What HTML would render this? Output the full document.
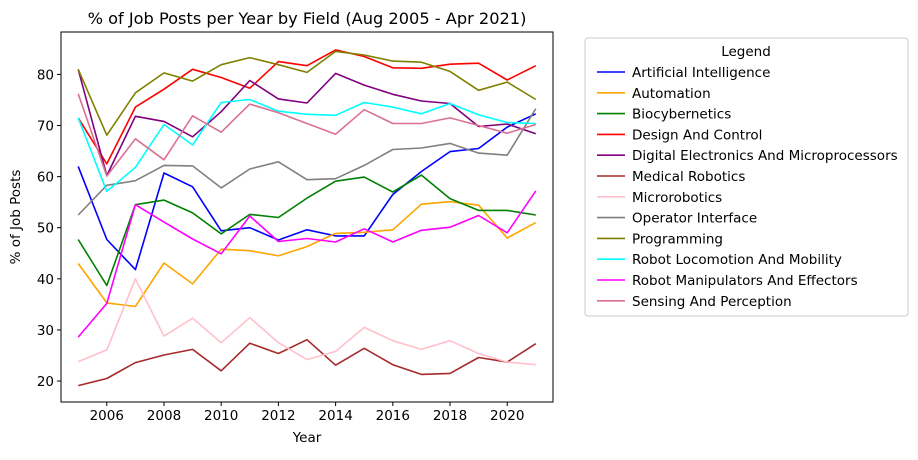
<!DOCTYPE html>
<html><head><meta charset="utf-8"><style>
body{margin:0;background:#fff;}
svg{font-family:"DejaVu Sans","Liberation Sans",sans-serif;}
</style></head><body>
<svg id="chart" width="918" height="455" xmlns="http://www.w3.org/2000/svg">
<rect width="918" height="455" fill="#fff"/>
<text x="307" y="24" font-size="16.2" text-anchor="middle">% of Job Posts per Year by Field (Aug 2005 - Apr 2021)</text>
<g id="plot"></g>
<g id="axes"></g>
<rect x="61" y="32" width="492" height="370" fill="none" stroke="#000" stroke-width="1"/>
<text x="307" y="442" font-size="13.5" text-anchor="middle">Year</text>
<text transform="translate(20,217) rotate(-90)" font-size="13.5" text-anchor="middle">% of Job Posts</text>
<g id="legend">
<rect x="585" y="38" width="323" height="278" rx="3" fill="#fff" stroke="#ccc"/>
<text x="746" y="56" font-size="13.5" text-anchor="middle">Legend</text>
</g>
</svg>
<script>
const years = [2005,2006,2007,2008,2009,2010,2011,2012,2013,2014,2015,2016,2017,2018,2019,2020,2021];
const seriesNames = ["Artificial Intelligence","Automation","Biocybernetics","Design And Control","Digital Electronics And Microprocessors","Medical Robotics","Microrobotics","Operator Interface","Programming","Robot Locomotion And Mobility","Robot Manipulators And Effectors","Sensing And Perception"];
const seriesColors = ["blue","orange","green","red","purple","brown","pink","gray","olive","cyan","magenta","palevioletred"];
const aiVals = [62,47.7,41.8,60.7,58,49.4,50,47.6,49.6,48.4,48.4,56.5,61,64.9,65.5,69.7,72.3];
const automationVals = [43,35.3,34.6,43.1,39,45.8,45.5,44.5,46.3,48.9,49.1,49.6,54.6,55.1,54.4,48,51];
const bioVals = [47.7,38.7,54.5,55.4,52.9,48.8,52.6,52,55.8,59.1,59.9,57,60.3,55.7,53.4,53.4,52.5];
const designVals = [71.5,62.5,73.6,77.1,81,79.4,77.3,82.5,81.7,84.8,83.5,81.3,81.2,82,82.2,78.9,81.7];
const digitalVals = [81,60.2,71.8,70.8,67.8,72.7,78.8,75.2,74.4,80.2,77.9,76.1,74.8,74.3,69.8,70.3,68.4];
const medicalVals = [19.1,20.5,23.6,25.1,26.2,22,27.4,25.4,28.1,23.1,26.4,23.2,21.3,21.5,24.6,23.7,27.3];
const microVals = [23.8,26.1,40,28.8,32.3,27.5,32.4,27.5,24.2,25.8,30.5,27.9,26.2,27.9,25.4,23.7,23.2];
const operatorVals = [52.5,58.3,59.2,62.2,62.1,57.8,61.5,62.9,59.4,59.6,62.2,65.3,65.6,66.5,64.6,64.2,73.3];
const programmingVals = [81,68.1,76.4,80.3,78.7,81.9,83.3,81.9,80.4,84.5,83.8,82.6,82.4,80.6,76.9,78.5,75.1];
const locomotionVals = [71.5,57.1,61.8,70.2,66.2,74.5,75.1,72.8,72.2,72,74.5,73.6,72.3,74.3,72.1,70.6,70.4];
const manipVals = [28.6,35.2,54.5,51.1,47.8,44.9,52.3,47.3,47.9,47.2,49.8,47.2,49.5,50.1,52.4,49,57.2];
const sensingVals = [76.2,60.1,67.4,63.3,71.9,68.7,74.2,72.5,70.4,68.3,73.1,70.4,70.4,71.5,70,68.5,70.2];
const xTicks = [2006,2008,2010,2012,2014,2016,2018,2020];
const yTicks = [20,30,40,50,60,70,80];

const allSeries = [aiVals,automationVals,bioVals,designVals,digitalVals,medicalVals,microVals,operatorVals,programmingVals,locomotionVals,manipVals,sensingVals];
const NS="http://www.w3.org/2000/svg";
const L=61,R=553,T=32,B=402;
const xMin=2004.4,xMax=2021.6,yMin=15.9,yMax=88.3;
function xs(v){return L+(v-xMin)/(xMax-xMin)*(R-L);}
function ys(v){return B-(v-yMin)/(yMax-yMin)*(B-T);}
function mk(tag,attrs,parent){const e=document.createElementNS(NS,tag);for(const k in attrs)e.setAttribute(k,attrs[k]);parent.appendChild(e);return e;}
const axes=document.getElementById('axes');
xTicks.forEach(t=>{
  const g=mk('g',{},axes);
  
  
  mk('line',{x1:xs(t),x2:xs(t),y1:B,y2:B+4,stroke:'#000'},g);
  const tx=mk('text',{x:xs(t),y:B+18,'font-size':13.5,'text-anchor':'middle'},g);tx.textContent=t;
});
yTicks.forEach(t=>{
  const g=mk('g',{},axes);
  
  
  mk('line',{x1:L-4,x2:L,y1:ys(t),y2:ys(t),stroke:'#000'},g);
  const tx=mk('text',{x:L-7,y:ys(t)+5,'font-size':13.5,'text-anchor':'end'},g);tx.textContent=t;
});
const plot=document.getElementById('plot');
const legend=document.getElementById('legend');
allSeries.forEach((vals,i)=>{
  const pts=vals.map((v,j)=>xs(years[j]).toFixed(1)+','+ys(v).toFixed(1)).join(' ');
  const pl=mk('polyline',{points:pts,fill:'none',stroke:seriesColors[i],'stroke-width':1.6,'stroke-linejoin':'round'},plot);
  
  
  const y=72+i*20.8;
  const g=mk('g',{},legend);
  
  
  mk('line',{x1:597,x2:625,y1:y,y2:y,stroke:seriesColors[i],'stroke-width':1.6},g);
  const tx=mk('text',{x:632,y:y+5,'font-size':13.5},g);tx.textContent=seriesNames[i];
});
</script>
</body></html>
